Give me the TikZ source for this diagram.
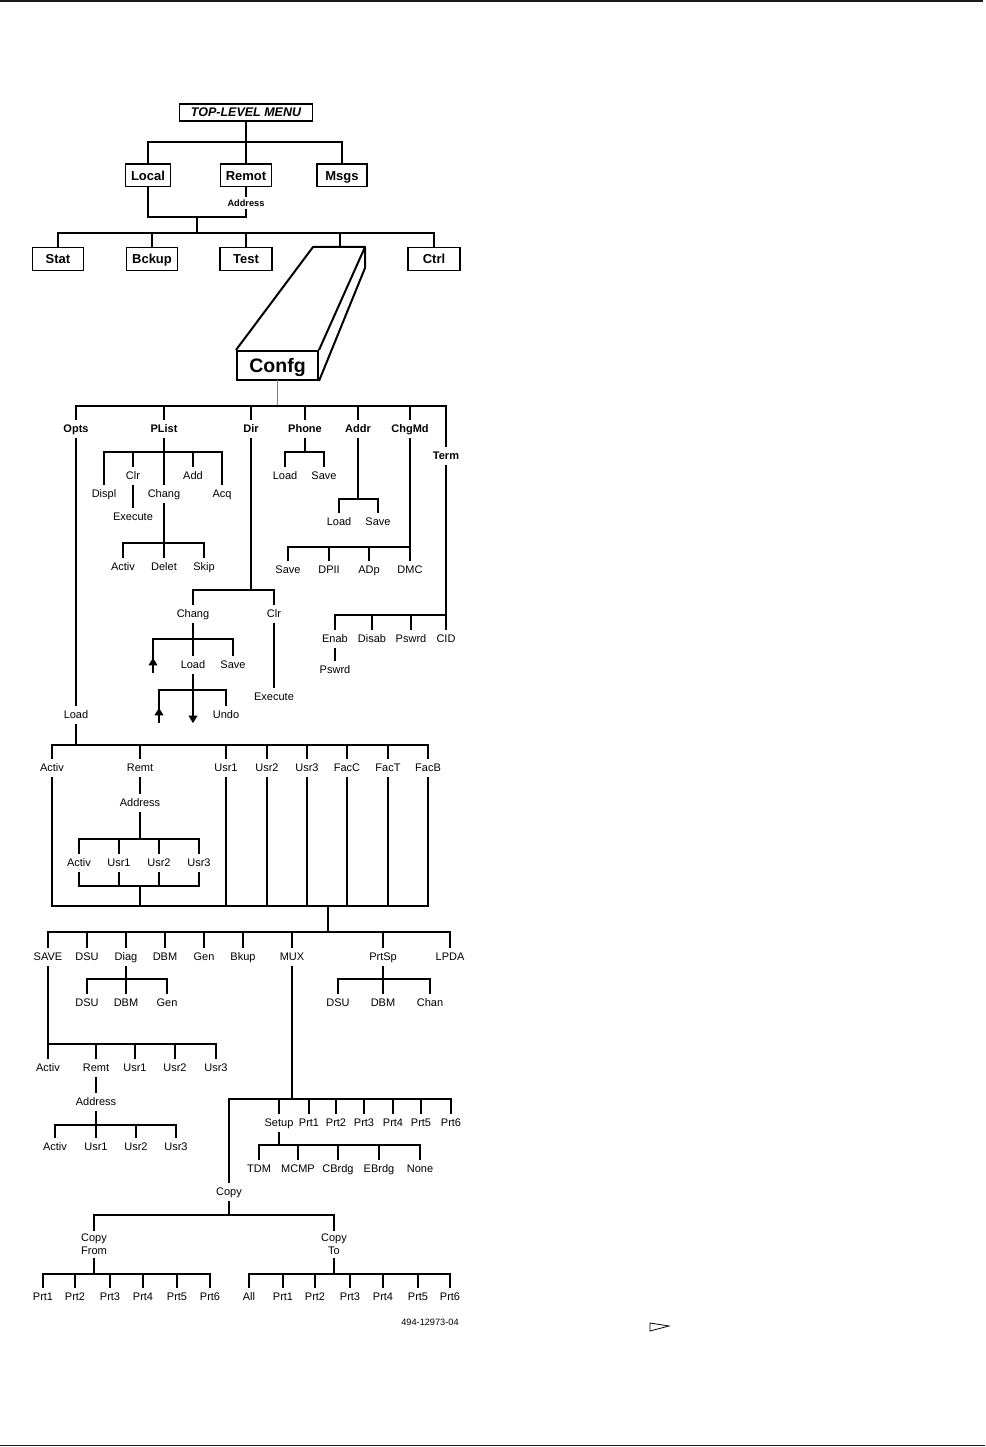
\documentclass[tikz,border=0pt]{standalone}
\usepackage{fontspec}
\setmainfont{Liberation Sans}
\usetikzlibrary{arrows.meta}
\newcommand{\tbranch}[3]{%
  \draw[ln] (#1) -- (#1 |- 0,#2);%
  \foreach \ch in {#3}{\draw[ln] (#1 |- 0,#2) -| (\ch);}%
}
\begin{document}
\begin{tikzpicture}[x=1pt,y=-1pt,
  ln/.style={line width=1.5pt, black, line cap=rect},
  rule/.style={line width=1.8pt, black!90},
  lbl/.style={font=\fontsize{11}{13}\selectfont, text height=9pt, text depth=2pt, inner xsep=1pt, inner ysep=4pt},
  blbl/.style={lbl, font=\fontsize{11}{13}\selectfont\bfseries},
  lbltwo/.style={font=\fontsize{11}{13}\selectfont, align=center, inner xsep=1pt, inner ysep=4pt},
  adr/.style={font=\fontsize{9.2}{11}\selectfont\bfseries, text height=7pt, text depth=0pt, inner xsep=1pt, inner ysep=3pt},
  codelbl/.style={font=\fontsize{9.2}{11}\selectfont, inner sep=0pt},
  mbox/.style={draw, line width=1.5pt, font=\fontsize{13}{15}\selectfont\bfseries, text height=9.5pt, text depth=0pt, minimum height=22.5pt, inner sep=0pt},
  topbox/.style={draw, line width=1.5pt, font=\fontsize{12.5}{15}\selectfont\bfseries\itshape, text height=9pt, text depth=0pt, minimum width=133pt, minimum height=17pt, inner sep=0pt},
  cfgbox/.style={draw, line width=2pt, font=\fontsize{19.5}{22}\selectfont\bfseries, text height=14pt, text depth=0pt, minimum width=81pt, minimum height=29pt, inner sep=0pt},
  box3d/.style={line width=2pt, line join=round},
  arrnode/.style={minimum width=8pt, minimum height=15pt, inner sep=0pt},
  arr/.style={line width=2.2pt, -{Triangle[width=8.5pt,length=7.5pt]}},
]
\useasboundingbox (0,0) rectangle (985,1447);
\draw[rule] (0,1) -- (983,1);
\draw[rule] (0,1445.5) -- (985,1445.5);

% top level
\node[topbox] (top) at (246,112.5) {TOP-LEVEL MENU};
\node[mbox, minimum width=45pt] (local) at (148,175.5) {Local};
\node[mbox, minimum width=51pt] (remot) at (246,175.5) {Remot};
\node[mbox, minimum width=50pt] (msgs) at (342,175.5) {Msgs};
\node[adr] (addr0) at (246,203) {Address};
\coordinate (j1) at (197,217);
\node[mbox, minimum width=51pt] (stat) at (58,259) {Stat};
\node[mbox, minimum width=51pt] (bckup) at (152,259) {Bckup};
\node[mbox, minimum width=52pt] (test) at (246,259) {Test};
\node[mbox, minimum width=52pt] (ctrl) at (434,259) {Ctrl};
\coordinate (cfgtop) at (340,247);

\tbranch{top}{142}{local,remot,msgs}
\draw[ln] (remot) -- (addr0);
\draw[ln] (addr0) |- (j1);
\draw[ln] (local) |- (j1);
\tbranch{j1}{233}{stat,bckup,test,cfgtop,ctrl}

% Confg 3D box
\node[cfgbox] (cfg) at (277.5,365.5) {Confg};
\draw[box3d] (cfg.north west) -- (313,247) -- (365,247) -- (cfg.north east)
             (365,247) -- (365,268) -- (cfg.south east);

% Confg children
\node[blbl] (opts) at (76,429) {Opts};
\node[blbl] (plist) at (164,429) {PList};
\node[blbl] (dir) at (251,429) {Dir};
\node[blbl] (phone) at (305,429) {Phone};
\node[blbl] (addr) at (358,429) {Addr};
\node[blbl] (chgmd) at (410,429) {ChgMd};
\node[blbl] (term) at (446,456) {Term};
\draw[ln, black!50] (cfg) -- (cfg |- 0,406);
\foreach \ch in {opts,plist,dir,phone,addr,chgmd,term} {\draw[ln] (cfg |- 0,406) -| (\ch);}

% PList
\node[lbl] (displ) at (104,494) {Displ};
\node[lbl] (clra) at (133,476) {Clr};
\node[lbl] (changa) at (164,494) {Chang};
\node[lbl] (add) at (193,476) {Add};
\node[lbl] (acq) at (222,494) {Acq};
\tbranch{plist}{452}{displ,clra,changa,add,acq}
\node[lbl] (execa) at (133,517) {Execute};
\draw[ln] (clra) -- (execa);
\node[lbl] (activa) at (123,567) {Activ};
\node[lbl] (delet) at (164,567) {Delet};
\node[lbl] (skip) at (204,567) {Skip};
\tbranch{changa}{543}{activa,delet,skip}

% Dir
\node[lbl] (changb) at (193,614) {Chang};
\node[lbl] (clrb) at (274,614) {Clr};
\tbranch{dir}{590}{changb,clrb}
\node[arrnode] (upa) at (153,665.5) {};
\node[lbl] (loadb) at (193,665) {Load};
\node[lbl] (saveb) at (233,665) {Save};
\tbranch{changb}{639}{upa,loadb,saveb}
\node[arrnode] (upb) at (159,715.5) {};
\node[arrnode] (dna) at (193,715.5) {};
\node[lbl] (undo) at (226,715) {Undo};
\tbranch{loadb}{690}{upb,dna,undo}
\draw[arr] (upa.south) -- (upa.north);
\draw[arr] (upb.south) -- (upb.north);
\draw[arr] (dna.north) -- (dna.south);
\node[lbl] (execb) at (274,697) {Execute};
\draw[ln] (clrb) -- (execb);

% Phone, Addr
\node[lbl] (loadc) at (285,476) {Load};
\node[lbl] (savec) at (324,476) {Save};
\tbranch{phone}{452}{loadc,savec}
\node[lbl] (loadd) at (339,522) {Load};
\node[lbl] (saved) at (378,522) {Save};
\tbranch{addr}{499}{loadd,saved}

% ChgMd
\node[lbl] (savee) at (288,570) {Save};
\node[lbl] (dpii) at (329,570) {DPII};
\node[lbl] (adp) at (369,570) {ADp};
\node[lbl] (dmc) at (410,570) {DMC};
\tbranch{chgmd}{547}{savee,dpii,adp,dmc}

% Term
\node[lbl] (enab) at (335,639) {Enab};
\node[lbl] (disab) at (372,639) {Disab};
\node[lbl] (pswrda) at (411,639) {Pswrd};
\node[lbl] (cid) at (446,639) {CID};
\tbranch{term}{615}{enab,disab,pswrda,cid}
\node[lbl] (pswrdb) at (335,670) {Pswrd};
\draw[ln] (enab) -- (pswrdb);

% Opts -> Load
\node[lbl] (loada) at (76,715) {Load};
\draw[ln] (opts) -- (loada);
\node[lbl] (activb) at (52,768) {Activ};
\node[lbl] (remta) at (140,768) {Remt};
\node[lbl] (usra1) at (226,768) {Usr1};
\node[lbl] (usra2) at (267,768) {Usr2};
\node[lbl] (usra3) at (307,768) {Usr3};
\node[lbl] (facc) at (347,768) {FacC};
\node[lbl] (fact) at (388,768) {FacT};
\node[lbl] (facb) at (428,768) {FacB};
\tbranch{loada}{745}{activb,remta,usra1,usra2,usra3,facc,fact,facb}
\node[lbl] (adra) at (140,803) {Address};
\draw[ln] (remta) -- (adra);
\node[lbl] (activc) at (79,863) {Activ};
\node[lbl] (usrc1) at (119,863) {Usr1};
\node[lbl] (usrc2) at (159,863) {Usr2};
\node[lbl] (usrc3) at (199,863) {Usr3};
\tbranch{adra}{839}{activc,usrc1,usrc2,usrc3}
\coordinate (m886) at (140,886);
\coordinate (j906) at (328,906);
\foreach \ch in {activc,usrc1,usrc2,usrc3} {\draw[ln] (\ch) |- (m886);}
\draw[ln] (m886) -- (m886 |- j906);
\foreach \ch in {activb,usra1,usra2,usra3,facc,fact,facb} {\draw[ln] (\ch) |- (j906);}

% next level
\node[lbl] (savea) at (48,957) {SAVE};
\node[lbl] (dsua) at (87,957) {DSU};
\node[lbl] (diag) at (126,957) {Diag};
\node[lbl] (dbma) at (165,957) {DBM};
\node[lbl] (gena) at (204,957) {Gen};
\node[lbl] (bkup) at (243,957) {Bkup};
\node[lbl] (mux) at (292,957) {MUX};
\node[lbl] (prtsp) at (383,957) {PrtSp};
\node[lbl] (lpda) at (450,957) {LPDA};
\tbranch{j906}{932}{savea,dsua,diag,dbma,gena,bkup,mux,prtsp,lpda}

\node[lbl] (dsub) at (87,1003) {DSU};
\node[lbl] (dbmb) at (126,1003) {DBM};
\node[lbl] (genb) at (167,1003) {Gen};
\tbranch{diag}{979}{dsub,dbmb,genb}
\node[lbl] (dsuc) at (338,1003) {DSU};
\node[lbl] (dbmc) at (383,1003) {DBM};
\node[lbl] (chan) at (430,1003) {Chan};
\tbranch{prtsp}{979}{dsuc,dbmc,chan}

% SAVE
\node[lbl] (activd) at (48,1068) {Activ};
\node[lbl] (remtb) at (96,1068) {Remt};
\node[lbl] (usrd1) at (135,1068) {Usr1};
\node[lbl] (usrd2) at (175,1068) {Usr2};
\node[lbl] (usrd3) at (216,1068) {Usr3};
\tbranch{savea}{1044}{activd,remtb,usrd1,usrd2,usrd3}
\node[lbl] (adrb) at (96,1102) {Address};
\draw[ln] (remtb) -- (adrb);
\node[lbl] (active) at (55,1147) {Activ};
\node[lbl] (usre1) at (96,1147) {Usr1};
\node[lbl] (usre2) at (136,1147) {Usr2};
\node[lbl] (usre3) at (176,1147) {Usr3};
\tbranch{adrb}{1125}{active,usre1,usre2,usre3}

% MUX
\node[lbl] (copy) at (229,1192) {Copy};
\node[lbl] (setup) at (279,1123) {Setup};
\node[lbl] (prta1) at (309,1123) {Prt1};
\node[lbl] (prta2) at (336,1123) {Prt2};
\node[lbl] (prta3) at (364,1123) {Prt3};
\node[lbl] (prta4) at (393,1123) {Prt4};
\node[lbl] (prta5) at (421,1123) {Prt5};
\node[lbl] (prta6) at (451,1123) {Prt6};
\tbranch{mux}{1099}{copy,setup,prta1,prta2,prta3,prta4,prta5,prta6}
\node[lbl] (tdm) at (259,1169) {TDM};
\node[lbl] (mcmp) at (298,1169) {MCMP};
\node[lbl] (cbrdg) at (338,1169) {CBrdg};
\node[lbl] (ebrdg) at (379,1169) {EBrdg};
\node[lbl] (none) at (420,1169) {None};
\tbranch{setup}{1145}{tdm,mcmp,cbrdg,ebrdg,none}

% Copy
\node[lbltwo] (cfrom) at (94,1244.5) {Copy\\From};
\node[lbltwo] (cto) at (334,1244.5) {Copy\\To};
\tbranch{copy}{1215}{cfrom,cto}
\node[lbl] (prtb1) at (43,1297) {Prt1};
\node[lbl] (prtb2) at (75,1297) {Prt2};
\node[lbl] (prtb3) at (110,1297) {Prt3};
\node[lbl] (prtb4) at (143,1297) {Prt4};
\node[lbl] (prtb5) at (177,1297) {Prt5};
\node[lbl] (prtb6) at (210,1297) {Prt6};
\tbranch{cfrom}{1274}{prtb1,prtb2,prtb3,prtb4,prtb5,prtb6}
\node[lbl] (all) at (249,1297) {All};
\node[lbl] (prtc1) at (283,1297) {Prt1};
\node[lbl] (prtc2) at (315,1297) {Prt2};
\node[lbl] (prtc3) at (350,1297) {Prt3};
\node[lbl] (prtc4) at (383,1297) {Prt4};
\node[lbl] (prtc5) at (418,1297) {Prt5};
\node[lbl] (prtc6) at (450,1297) {Prt6};
\tbranch{cto}{1274}{all,prtc1,prtc2,prtc3,prtc4,prtc5,prtc6}

\node[codelbl] (code) at (430,1322) {494-12973-04};
\draw[line width=0.8pt, line join=miter] (650,1323) -- (650,1331) -- (669,1326) -- cycle;
\end{tikzpicture}
\end{document}
